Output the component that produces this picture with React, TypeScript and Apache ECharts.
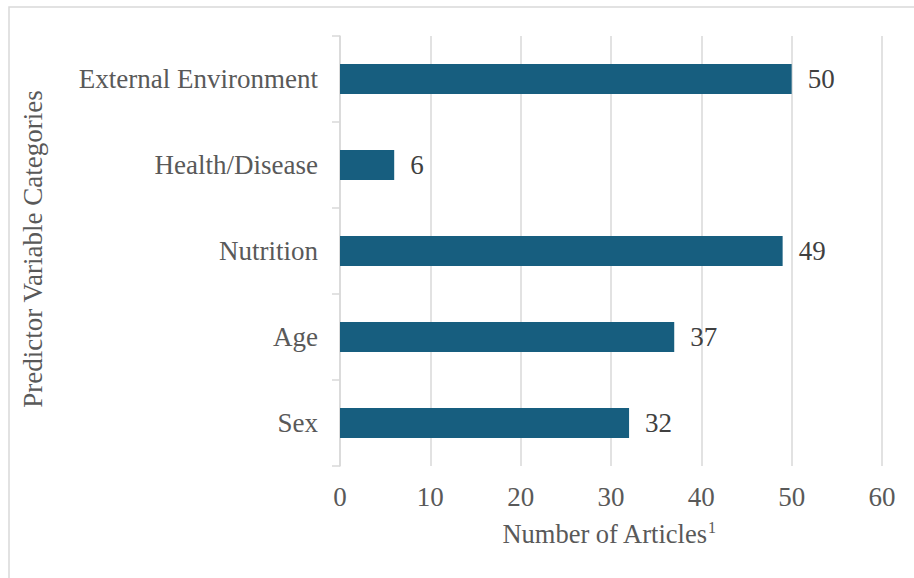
import React, { useEffect, useRef } from "react";
import * as echarts from "echarts";

// Predictor categories, listed bottom to top as they appear on the axis
const categories = ["Sex", "Age", "Nutrition", "Health/Disease", "External Environment"];
const articleCounts = [32, 37, 49, 6, 50];
const xTicks = { min: 0, max: 60, interval: 10 };

const FONT = "Liberation Serif";
const FONT_SIZE = 27;
const GRID_GRAY = "#d9d9d9";
const LABEL_GRAY = "#595959";
const BAR_BLUE = "#175e7f";

export default function App() {
  const ref = useRef<HTMLDivElement>(null);

  useEffect(() => {
    if (!ref.current) return;
    const chart = echarts.init(ref.current, null, { renderer: "svg" });
    chart.setOption({
      animation: false,
      backgroundColor: "#ffffff",
      grid: { left: 340, right: 32, top: 36, bottom: 112, containLabel: false },
      xAxis: {
        type: "value",
        min: xTicks.min,
        max: xTicks.max,
        interval: xTicks.interval,
        axisLine: { show: false },
        axisTick: { show: false },
        splitLine: { show: true, lineStyle: { color: GRID_GRAY, width: 1.5 } },
        axisLabel: { color: LABEL_GRAY, fontFamily: FONT, fontSize: FONT_SIZE, margin: 17 },
      },
      yAxis: {
        type: "category",
        data: categories,
        axisLine: { show: true, lineStyle: { color: GRID_GRAY, width: 1.5 } },
        axisTick: { show: true, length: 8, lineStyle: { color: GRID_GRAY, width: 1.5 } },
        axisLabel: { color: LABEL_GRAY, fontFamily: FONT, fontSize: FONT_SIZE, margin: 22 },
        splitLine: { show: false },
      },
      series: [
        {
          type: "bar",
          data: articleCounts,
          barWidth: 30,
          itemStyle: { color: BAR_BLUE },
          label: {
            show: true,
            position: "right",
            distance: 16,
            color: "#404040",
            fontFamily: FONT,
            fontSize: FONT_SIZE,
          },
        },
      ],
      graphic: [
        {
          type: "rect",
          shape: { x: 9, y: 7, width: 930, height: 600 },
          style: { fill: "none", stroke: GRID_GRAY, lineWidth: 1.5 },
          silent: true,
        },
        {
          type: "text",
          x: 33,
          y: 249,
          rotation: Math.PI / 2,
          style: {
            text: "Predictor Variable Categories",
            fontFamily: FONT,
            fontSize: FONT_SIZE,
            fill: LABEL_GRAY,
            textAlign: "center",
            textVerticalAlign: "middle",
          },
        },
        {
          type: "text",
          x: 707,
          y: 534,
          style: {
            text: "Number of Articles",
            fontFamily: FONT,
            fontSize: 26.5,
            fill: LABEL_GRAY,
            textAlign: "right",
            textVerticalAlign: "middle",
          },
        },
        {
          type: "text",
          x: 708,
          y: 519,
          style: {
            text: "1",
            fontFamily: FONT,
            fontSize: 16,
            fill: LABEL_GRAY,
            textAlign: "left",
            textVerticalAlign: "top",
          },
        },
      ],
    });
    return () => chart.dispose();
  }, []);

  return (
    <div
      ref={ref}
      style={{ position: "fixed", left: 0, top: 0, width: 914, height: 578 }}
    />
  );
}
